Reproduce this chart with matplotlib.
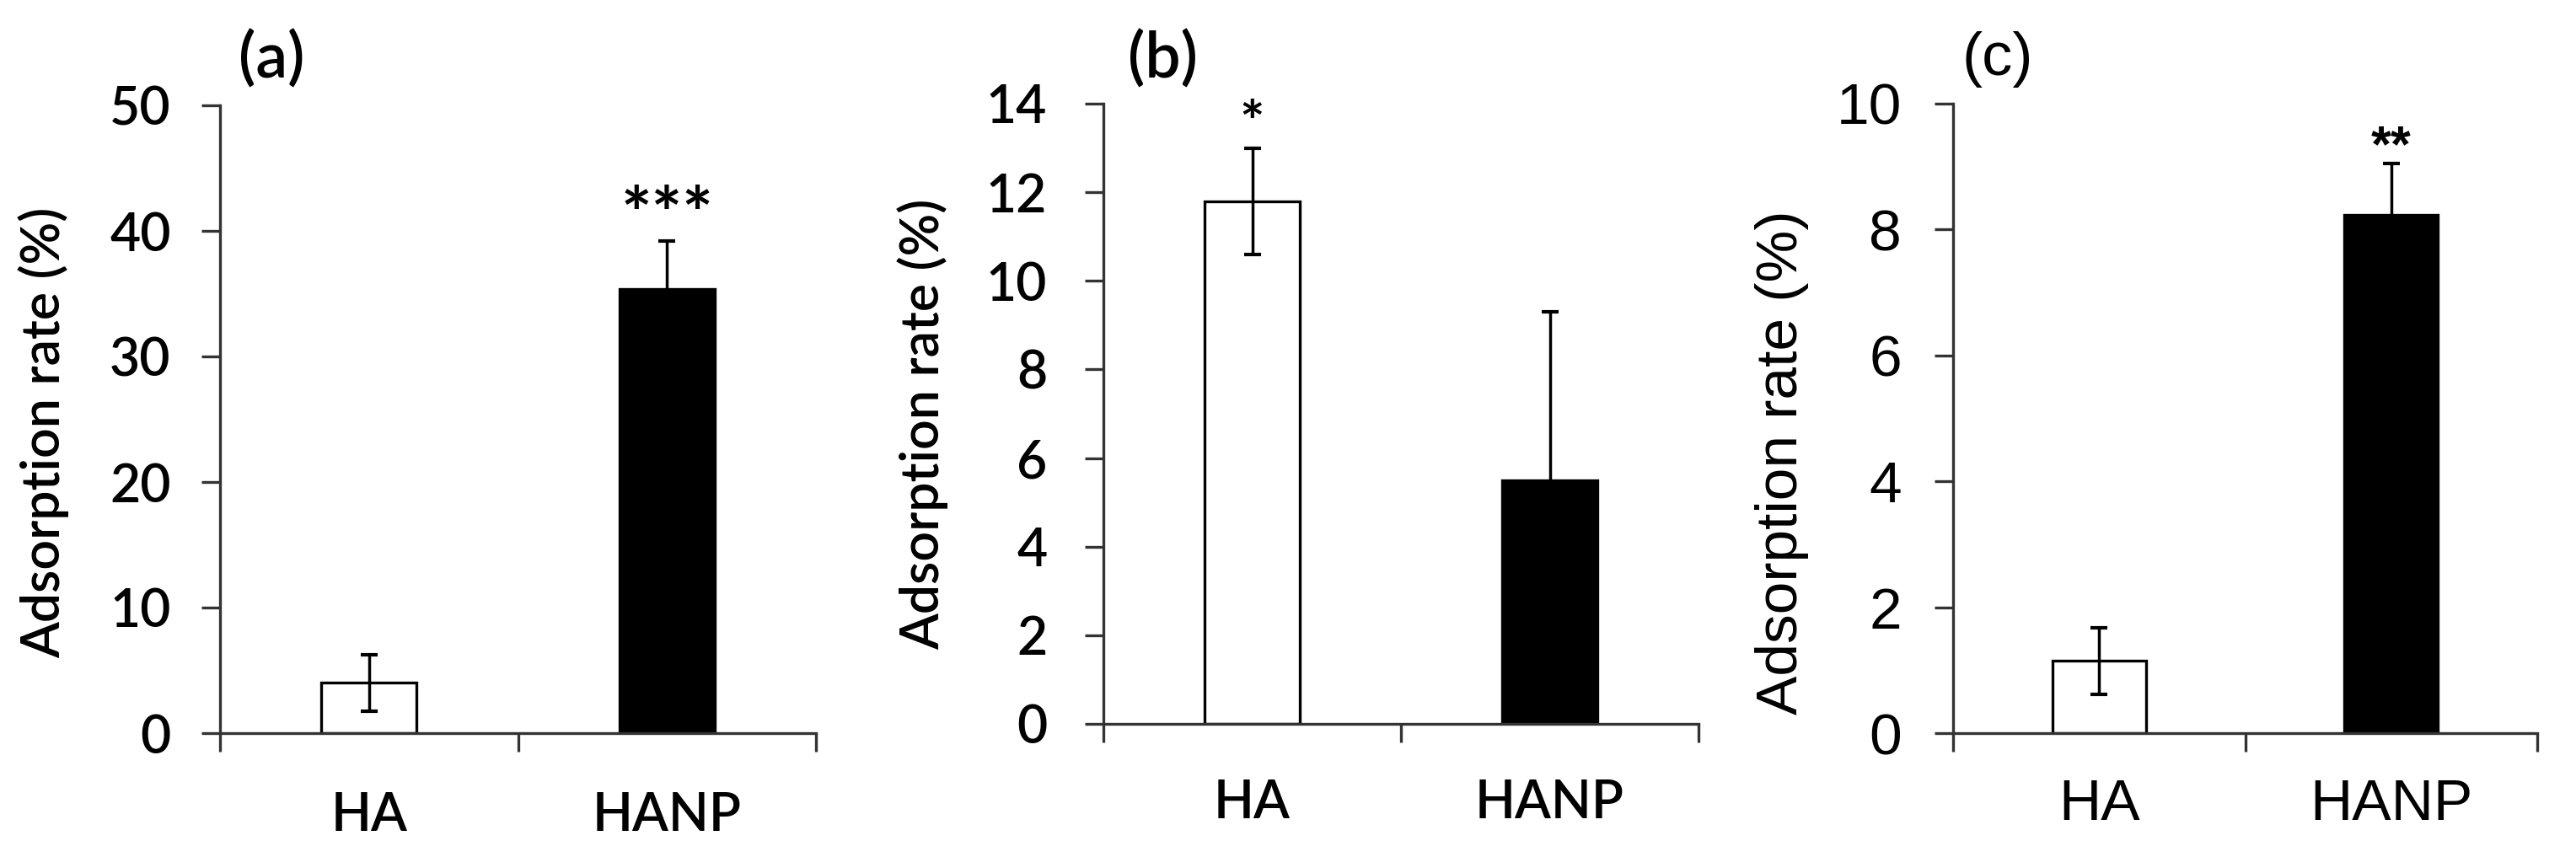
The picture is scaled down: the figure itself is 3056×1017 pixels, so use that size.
import numpy as np
import matplotlib
matplotlib.use("Agg")
import matplotlib.pyplot as plt

groups = ["HA", "HANP"]

rate_a = [4.0, 35.4]
err_a = [2.25, 3.8]
rate_b = [11.8, 5.5]
err_b = [1.2, 3.8]
rate_c = [1.15, 8.23]
err_c = [0.53, 0.82]

# significance marks: (group index, height, text, size)
sig_a = (1, 41.0, "***", 62)
sig_b = (0, 13.5, "*", 50)
sig_c = (1, 9.3, "**", 44)

fill = ["white", "black"]
W, H = 3056, 1017


def px_box(x0, x1, ytop, y0):
    # axes rectangle from pixel corners of the reference
    return [x0 / W, 1 - y0 / H, (x1 - x0) / W, (y0 - ytop) / H]


def panel(fig, box, vals, errs, ymax, step, sig, font, fs, wt, ypad, xpad):
    ax = fig.add_axes(box)
    x = np.arange(len(groups))
    ax.bar(x, vals, width=0.32, color=fill, edgecolor="black", linewidth=2.4,
           zorder=2)
    ax.errorbar(x, vals, yerr=errs, fmt="none", ecolor="black", elinewidth=2.5,
                capsize=7.5, capthick=3, zorder=3)
    i, h, s, ss = sig
    ax.text(x[i], h, s, ha="center", va="center", fontsize=ss,
            fontweight="bold", family=font)

    ax.set_xlim(-0.5, len(groups) - 0.5)
    ax.set_ylim(0, ymax)
    yt = np.arange(0, ymax + step / 2, step)
    ax.set_yticks(yt, labels=[f"{v:g}" for v in yt], family=font,
                  fontweight=wt, fontsize=fs)
    # category separators as major ticks, labels on minor ticks
    ax.set_xticks(np.arange(-0.5, len(groups), 1.0))
    ax.set_xticklabels([])
    ax.set_xticks(x, labels=groups, minor=True, family=font, fontweight=wt,
                  fontsize=fs)
    ax.tick_params(axis="x", which="major", direction="out", length=16,
                   width=2.4, color="#333333")
    ax.tick_params(axis="x", which="minor", length=0, pad=xpad)
    ax.tick_params(axis="y", direction="out", length=16, width=2.4,
                   color="#333333", pad=ypad)
    for side in ["top", "right"]:
        ax.spines[side].set_visible(False)
    for side in ["left", "bottom"]:
        ax.spines[side].set_linewidth(2.4)
        ax.spines[side].set_color("#333333")
    ax.set_facecolor("none")
    return ax


fig = plt.figure(figsize=(30.56, 10.17), dpi=100)

calibri_like = ["Lato", "DejaVu Sans"]
arial_like = ["Liberation Sans", "DejaVu Sans"]

panel(fig, px_box(261, 968, 125, 870), rate_a, err_a, 50, 10, sig_a,
      calibri_like, 45, "semibold", 26, 50)
panel(fig, px_box(1309, 2015, 123, 859), rate_b, err_b, 14, 2, sig_b,
      calibri_like, 45, "semibold", 32, 47)
panel(fig, px_box(2317, 3010, 123, 870), rate_c, err_c, 10, 2, sig_c,
      arial_like, 50, "normal", 28, 38)

ylab = "Adsorption rate (%)"
fig.text(52 / W, 1 - 513 / H, ylab, rotation=90, ha="center", va="center",
         fontsize=45, fontweight="semibold", family=calibri_like)
fig.text(1095 / W, 1 - 503 / H, ylab, rotation=90, ha="center", va="center",
         fontsize=45, fontweight="semibold", family=calibri_like)
fig.text(2114 / W, 1 - 549 / H, ylab, rotation=90, ha="center", va="center",
         fontsize=50, family=arial_like)

fig.text(283 / W, 1 - 70 / H, "(a)", ha="left", va="center", fontsize=54,
         fontweight="semibold", family=calibri_like)
fig.text(1338 / W, 1 - 70 / H, "(b)", ha="left", va="center", fontsize=54,
         fontweight="semibold", family=calibri_like)
fig.text(2328 / W, 1 - 70 / H, "(c)", ha="left", va="center", fontsize=52,
         family=arial_like)

fig.savefig("out.png", dpi=100, facecolor="white")
